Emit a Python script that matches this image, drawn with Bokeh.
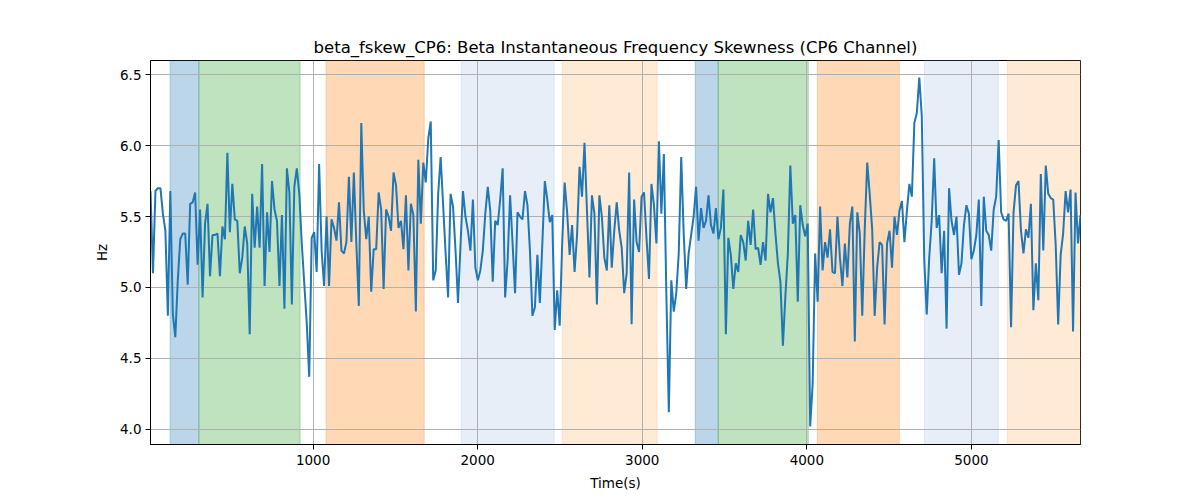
import numpy as np
from bokeh.plotting import figure
from bokeh.models import Range1d, FixedTicker, NumeralTickFormatter
from bokeh.embed import file_html
from bokeh.resources import INLINE

# time axis: evenly sampled from t_start to t_end
t_start = 12.0
t_end = 5663.0

# beta instantaneous frequency skewness (Hz)
fskew = [
    5.68, 5.10, 5.68, 5.70, 5.70, 5.52, 5.40, 4.80, 5.68, 4.81, 4.65, 5.05, 5.34, 5.38, 5.38, 5.02,
    5.59, 5.60, 5.67, 5.16, 5.55, 4.93, 5.45, 5.59, 5.08, 5.37, 5.37, 5.38, 5.08, 5.43, 5.34, 5.95,
    5.39, 5.73, 5.48, 5.47, 5.10, 5.21, 5.43, 5.31, 4.67, 5.66, 5.28, 5.57, 5.28, 5.87, 5.01, 5.53,
    5.25, 5.75, 5.55, 5.47, 5.01, 5.51, 4.85, 5.84, 5.67, 4.88, 5.71, 5.84, 5.66,
    5.31, 5.03, 4.75, 4.37,
    5.35, 5.39, 5.11, 5.87, 5.26, 5.01, 5.50, 5.01, 5.48, 5.42, 5.33, 5.60, 5.26, 5.24, 5.32, 5.78,
    5.32, 5.81, 5.31, 4.87, 6.16, 5.54, 5.34, 5.50, 4.97, 5.27, 5.27, 5.67, 5.55, 4.99, 5.55, 5.50,
    5.40, 5.81, 5.72, 5.42, 5.47, 5.27, 5.65, 5.12, 5.59, 5.51, 4.83, 5.90, 5.45, 5.88, 5.74, 6.05,
    6.17, 5.05, 5.12, 5.66, 5.92, 5.58, 5.24, 4.93, 5.66, 5.57, 5.26, 4.89,
    5.30, 5.68, 5.50, 5.40, 5.26, 5.62, 5.14, 5.05, 5.12, 5.26, 5.52, 5.71, 5.54, 5.04, 5.47, 5.44,
    5.62, 5.84, 4.93, 5.19, 5.65, 5.31, 4.96, 5.53, 5.50, 5.48, 5.68, 5.58, 5.26, 4.80, 4.86, 5.23,
    4.89, 5.31, 5.75, 5.62, 5.46, 5.51, 4.70, 4.98, 4.73, 5.31, 5.74, 5.53, 5.23, 5.44, 5.11, 5.37,
    5.85, 5.64, 6.02, 5.54, 5.07, 5.65, 5.52, 4.88, 5.65, 5.50, 5.21, 5.12, 5.58, 5.14,
    5.40, 5.60, 5.40, 5.28, 4.96, 5.10, 5.81, 4.74, 5.62, 5.32, 5.25, 5.64, 5.67, 5.35, 5.06, 5.73,
    5.58, 5.31, 6.03, 5.52, 5.94, 4.96, 4.12, 5.05, 4.83, 4.96, 5.24, 5.92, 5.38, 4.99, 5.24, 5.37,
    5.50, 5.71, 5.33, 5.56, 5.42, 5.47, 5.65, 5.44, 5.38, 5.56, 5.34, 5.42, 5.69, 4.67, 5.35, 5.23,
    4.99, 5.17, 5.11, 5.37, 5.32, 5.19, 5.47, 5.30, 5.55, 5.27, 5.28, 5.16, 5.32, 5.19, 5.66,
    5.53, 5.63, 5.38, 5.17, 5.04, 4.59, 4.94, 5.24, 5.86, 5.45, 5.51, 4.90, 5.58, 5.44, 5.36, 5.45,
    4.02, 4.32, 5.24, 4.90, 5.57, 5.12, 5.32, 5.21, 5.41, 5.11, 5.10, 5.50, 5.21, 5.01, 5.31, 5.07,
    5.45, 5.57, 4.62, 5.53, 5.38, 4.80, 5.41, 5.88, 5.66, 5.41, 4.80, 5.14, 5.32, 5.30, 4.74, 5.31,
    5.40, 5.14, 5.50, 5.37, 5.54, 5.61, 5.32, 5.54, 5.73, 5.64, 6.16, 6.23, 6.48,
    6.21, 5.19, 4.81, 5.21, 5.47, 5.91, 5.42, 5.51, 5.10, 5.40, 4.71, 5.70, 5.47, 5.37, 5.50, 5.09,
    5.17, 5.44, 5.58, 5.52, 5.20, 5.26, 5.37, 5.62, 4.87, 5.64, 5.40, 5.37, 5.26, 5.55, 5.64, 6.04,
    5.53, 5.48, 5.47, 5.52, 4.72, 5.53, 5.72, 5.75, 5.40, 5.24, 5.41, 5.35, 5.59, 4.84, 5.17, 4.91,
    5.80, 5.26, 5.86, 5.66, 5.63, 5.62, 5.30, 4.74, 5.23, 5.38, 5.68, 5.53, 5.69, 4.69, 5.67, 5.31,
    5.51,
]

# shaded epochs (seconds)
band_start = [131, 306, 1079, 1900, 2514, 3322, 3462, 4064, 4714, 5219]
band_end = [306, 921, 1675, 2465, 3091, 3462, 4009, 4562, 5164, 5663]
band_kind = ["blue", "green", "orange", "lightblue", "lightorange",
             "blue", "green", "orange", "lightblue", "lightorange"]

x_ticks = [1000, 2000, 3000, 4000, 5000]
y_ticks = [4.0, 4.5, 5.0, 5.5, 6.0, 6.5]

palette = {
    "blue": "#1f77b4",
    "green": "#2ca02c",
    "orange": "#ff7f0e",
    "lightblue": "#aec7e8",
    "lightorange": "#ffbb78",
}

t = np.linspace(t_start, t_end, len(fskew))

p = figure(
    title="beta_fskew_CP6: Beta Instantaneous Frequency Skewness (CP6 Channel)",
    frame_width=930, frame_height=384,
    min_border_left=150, min_border_right=112,
    min_border_top=60, min_border_bottom=50,
    x_range=Range1d(t_start, t_end), y_range=Range1d(3.893, 6.6),
    toolbar_location=None, output_backend="svg",
    background_fill_color="white", border_fill_color="white",
)

# bands go under the grid, like axvspan in matplotlib
colors = [palette[k] for k in band_kind]
p.quad(left=band_start, right=band_end, bottom=3.0, top=7.0,
       fill_color=colors, fill_alpha=0.3, line_color=colors, line_alpha=0.3,
       level="underlay")

p.line(t, fskew, line_color="#1f77b4", line_width=2)

# title
p.title.align = "center"
p.title.text_font = "DejaVu Sans"
p.title.text_font_size = "16.5px"
p.title.text_font_style = "normal"
p.title.text_color = "black"
p.title.standoff = 7

# axes
p.xaxis.axis_label = "Time(s)"
p.yaxis.axis_label = "Hz"
p.xaxis.ticker = FixedTicker(ticks=x_ticks)
p.yaxis.ticker = FixedTicker(ticks=y_ticks)
p.yaxis.formatter = NumeralTickFormatter(format="0.0")
for ax in (p.xaxis, p.yaxis):
    ax.axis_label_text_font = "DejaVu Sans"
    ax.axis_label_text_font_size = "13.5px"
    ax.axis_label_text_font_style = "normal"
    ax.axis_label_text_color = "black"
    ax.major_label_text_font = "DejaVu Sans"
    ax.major_label_text_font_size = "13.5px"
    ax.major_label_text_color = "black"
    ax.axis_line_color = "black"
    ax.major_tick_line_color = "black"
    ax.major_tick_out = 5
    ax.major_tick_in = 0
    ax.minor_tick_line_color = None
    ax.axis_label_standoff = 7
p.xaxis.major_label_standoff = 5
p.yaxis.major_label_standoff = 4

p.grid.grid_line_color = "#b0b0b0"
p.grid.grid_line_width = 1
p.outline_line_color = "black"
p.outline_line_alpha = 1
p.outline_line_width = 1

open("out.html", "w").write(file_html(p, INLINE))
